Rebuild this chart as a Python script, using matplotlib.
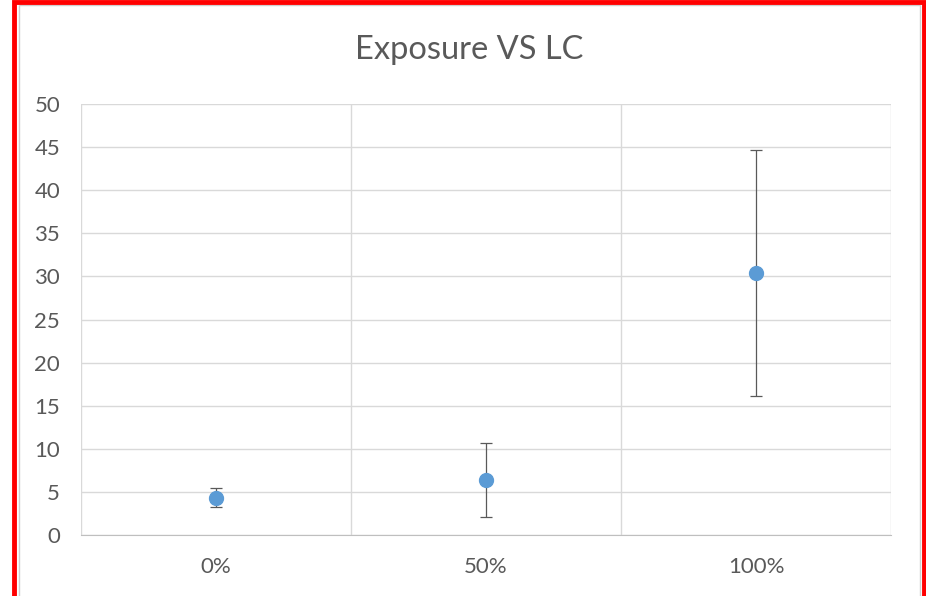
import matplotlib.pyplot as plt
from matplotlib.patches import Rectangle

plt.rcParams['font.family'] = ['Lato', 'DejaVu Sans']

# data
categories = ['0%', '50%', '100%']
lc_mean = [4.3, 6.4, 30.4]
lc_err = [1.1, 4.3, 14.3]
y_ticks = list(range(0, 55, 5))

W, H = 926, 596
fig = plt.figure(figsize=(W / 100, H / 100), dpi=100)

# red frame around the chart (as in the screenshot)
fig.patches.append(Rectangle((14 / W, -0.05), 910 / W, 1.05 - 2 / H, transform=fig.transFigure,
                             fill=False, edgecolor='#ff0000', linewidth=3.5, zorder=10))
fig.patches.append(Rectangle((18.5 / W, -0.05), 901 / W, 1.05 - 5 / H, transform=fig.transFigure,
                             fill=False, edgecolor='#d0d0d0', linewidth=1, zorder=9))

ax = fig.add_axes([81 / W, (H - 535) / H, 810 / W, 431 / H])

x = list(range(len(categories)))
ax.errorbar(x, lc_mean, yerr=lc_err, fmt='o', color='#5b9bd5', markersize=10,
            ecolor='#595959', elinewidth=0.9, capsize=4.5, capthick=0.9, zorder=3)

ax.set_xlim(-0.5, len(categories) - 0.5)
ax.set_ylim(0, 50)
ax.set_yticks(y_ticks)
ax.set_xticks(x)
ax.set_xticklabels(categories)

# horizontal grid + vertical category dividers
ax.grid(axis='y', color='#d9d9d9', linewidth=1)
for b in [i - 0.5 for i in range(len(categories) + 1)]:
    ax.axvline(b, color='#d9d9d9', linewidth=1, zorder=1)
ax.set_axisbelow(True)

for s in ['top', 'right', 'left']:
    ax.spines[s].set_visible(False)
ax.spines['bottom'].set_color('#bfbfbf')
ax.tick_params(axis='both', length=0, labelsize=16, colors='#595959')
ax.tick_params(axis='x', pad=16)
ax.tick_params(axis='y', pad=15)

fig.text(469 / W, 1 - 50 / H, 'Exposure VS LC', ha='center', va='center',
         fontsize=23.5, color='#595959')

fig.savefig('out.png', dpi=100, facecolor='white')
